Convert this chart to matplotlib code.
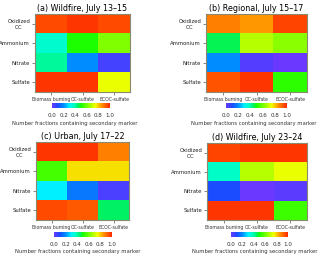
import numpy as np
import matplotlib
matplotlib.use("Agg")
import matplotlib.pyplot as plt
from matplotlib.colors import LinearSegmentedColormap

plt.rcParams['font.family'] = ['DejaVu Sans']

rows = ["Oxidized\nOC", "Ammonium", "Nitrate", "Sulfate"]
cols = ["Biomass burning", "OC-sulfate", "ECOC-sulfate"]
titles = ["(a) Wildfire, July 13\u201315", "(b) Regional, July 15\u201317",
          "(c) Urban, July 17\u201322", "(d) Wildfire, July 23\u201324"]

vals_a = [[0.95, 0.98, 0.95],
          [0.36, 0.50, 0.62],
          [0.41, 0.20, 0.05],
          [0.98, 0.98, 0.74]]
vals_b = [[0.88, 0.85, 0.96],
          [0.46, 0.68, 0.63],
          [0.20, 0.03, 0.00],
          [0.94, 0.98, 0.52]]
vals_c = [[0.98, 0.98, 0.88],
          [0.55, 0.78, 0.78],
          [0.30, 0.17, 0.04],
          [0.95, 0.93, 0.45]]
vals_d = [[0.96, 0.98, 0.98],
          [0.37, 0.68, 0.74],
          [0.10, 0.00, 0.02],
          [0.98, 0.98, 0.54]]
panels = [vals_a, vals_b, vals_c, vals_d]

cbar_ticks = [0.0, 0.2, 0.4, 0.6, 0.8, 1.0]
cbar_label = "Number fractions containing secondary marker"

cmap = LinearSegmentedColormap.from_list("rb", [
    (0.0, (0.42, 0.22, 1.0)),
    (0.1, (0.1, 0.3, 1.0)),
    (0.2, (0.0, 0.55, 1.0)),
    (0.3, (0.0, 0.95, 1.0)),
    (0.38, (0.0, 1.0, 0.75)),
    (0.45, (0.0, 0.95, 0.4)),
    (0.5, (0.1, 1.0, 0.0)),
    (0.65, (0.6, 1.0, 0.0)),
    (0.75, (0.95, 1.0, 0.0)),
    (0.85, (1.0, 0.6, 0.0)),
    (1.0, (1.0, 0.15, 0.0)),
])

fig = plt.figure(figsize=(3.2, 2.58), dpi=100)

ax_rects = [[35/320, 1-92/258, 95/320, 78/258],
            [206/320, 1-92/258, 101/320, 78/258],
            [36/320, 1-220/258, 93/320, 78/258],
            [207/320, 1-220/258, 100/320, 77/258]]
cb_rects = [[52/320, 1-108/258, 58/320, 5/258],
            [226/320, 1-108/258, 61/320, 5/258],
            [54/320, 1-237/258, 58/320, 5/258],
            [231/320, 1-237/258, 57/320, 5/258]]
label_x = [0.39, 0.46, 0.41, 0.41]

for vals, title, r, cr, lx in zip(panels, titles, ax_rects, cb_rects, label_x):
    ax = fig.add_axes(r)
    im = ax.imshow(np.array(vals), cmap=cmap, vmin=0, vmax=1, aspect='auto')
    ax.set_xticks(range(len(cols)))
    ax.set_xticklabels(cols, fontsize=3.3, color='#333333')
    ax.set_yticks(range(len(rows)))
    ax.set_yticklabels(rows, fontsize=3.8, color='#222222', multialignment='center')
    ax.tick_params(axis='both', length=2, width=0.5, pad=1.5, color='#555555')
    for s in ax.spines.values():
        s.set_color('#8a8a70')
        s.set_linewidth(0.8)
    ax.set_title(title, fontsize=5.8, pad=2.5)
    cax = fig.add_axes(cr)
    cb = fig.colorbar(im, cax=cax, orientation='horizontal', ticks=cbar_ticks)
    cb.outline.set_visible(False)
    cax.tick_params(length=0, labelsize=4.1, pad=3.5, colors='#333333')
    cax.set_xticklabels([f"{t:.1f}" for t in cbar_ticks])
    cb.set_label(cbar_label, fontsize=3.75, color='#333333')
    cax.xaxis.set_label_coords(lx, -2.5)

fig.savefig("out.png", dpi=100)
